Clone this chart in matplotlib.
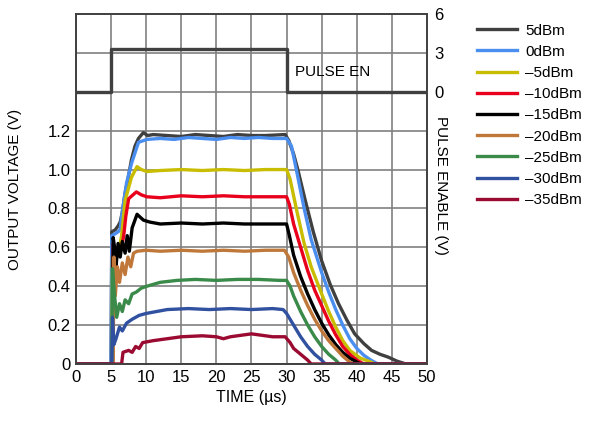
import matplotlib.pyplot as plt
import numpy as np

plt.rcParams['font.family'] = ['Liberation Sans Narrow', 'Liberation Sans', 'DejaVu Sans']
plt.rcParams['font.size'] = 12

labels = ["5dBm", "0dBm", "\u20135dBm", "\u201310dBm", "\u201315dBm",
          "\u201320dBm", "\u201325dBm", "\u201330dBm", "\u201335dBm"]
colors = ["#404040", "#4a8ef0", "#c8bd00", "#e8001c", "#000000",
          "#c0783a", "#3a8a4a", "#3050a0", "#9b0a30"]

t_5 = [0, 5.0, 5.1, 5.6, 6.0, 6.3, 6.6, 7.0, 7.4, 7.9, 8.4, 8.9, 9.6, 10.2, 11, 13, 15, 17, 19, 21, 23, 25, 27, 29.8,
       30.3, 31.0, 31.6, 32.6, 33.8, 35, 36.2, 37.4, 38.6, 39.7, 41, 42.1, 43.3, 44.5, 45.7, 47, 50]
v_5 = [0, 0, 0.68, 0.69, 0.71, 0.73, 0.78, 0.88, 0.95, 1.05, 1.12, 1.16, 1.19, 1.175, 1.18, 1.175, 1.17, 1.18, 1.175,
       1.17, 1.18, 1.175, 1.175, 1.18,
       1.15, 1.08, 1.00, 0.85, 0.68, 0.53, 0.41, 0.31, 0.225, 0.155, 0.105, 0.07, 0.05, 0.035, 0.015, 0, 0]

t_0 = [0, 5.0, 5.1, 5.6, 6.0, 6.3, 6.5, 7.2, 7.9, 8.9, 10.1, 12, 14, 16, 18, 20, 22, 24, 26, 28, 30.0,
       30.7, 31.5, 32.5, 33.5, 35, 36, 37, 38, 39, 40, 41, 42, 43, 50]
v_0 = [0, 0, 0.66, 0.67, 0.68, 0.69, 0.76, 0.93, 1.03, 1.14, 1.155, 1.16, 1.155, 1.165, 1.16, 1.155, 1.165, 1.16,
       1.165, 1.16, 1.16,
       1.12, 0.98, 0.80, 0.64, 0.47, 0.37, 0.28, 0.20, 0.13, 0.08, 0.045, 0.02, 0, 0]

t_m5 = [0, 5.1, 5.2, 5.6, 6.2, 6.5, 7.0, 7.9, 8.7, 9.3, 10.1, 12, 15, 18, 21, 24, 27, 30.0,
        30.5, 31.5, 32.5, 33.5, 35, 36, 37, 38, 39, 40.5, 42, 42.5, 50]
v_m5 = [0, 0, 0.55, 0.58, 0.60, 0.66, 0.84, 0.96, 1.015, 1.0, 0.99, 0.995, 1.0, 0.995, 1.0, 0.995, 1.0, 1.0,
        0.95, 0.78, 0.62, 0.50, 0.36, 0.27, 0.19, 0.12, 0.07, 0.03, 0.01, 0, 0]

t_m10 = [0, 5.2, 5.3, 5.8, 6.5, 6.8, 7.1, 7.5, 8.6, 9.3, 10.1, 12, 15, 18, 21, 24, 27, 30.0,
         30.4, 31, 32, 33, 34, 35, 36, 37, 38, 39, 40, 41, 50]
v_m10 = [0, 0, 0.62, 0.55, 0.60, 0.66, 0.76, 0.85, 0.885, 0.87, 0.86, 0.855, 0.865, 0.86, 0.865, 0.86, 0.86, 0.86,
         0.82, 0.72, 0.60, 0.48, 0.38, 0.30, 0.22, 0.15, 0.09, 0.05, 0.02, 0, 0]

t_m15 = [0, 5.2, 5.3, 5.5, 5.7, 6.0, 6.3, 6.6, 7.0, 7.3, 7.6, 8.0, 8.7, 9.6, 10.5, 12, 15, 18, 21, 24, 27, 30.0,
         30.4, 31, 32, 33, 34, 35, 36, 37, 38, 39, 40, 40.5, 50]
v_m15 = [0, 0, 0.65, 0.60, 0.50, 0.62, 0.55, 0.63, 0.57, 0.66, 0.58, 0.70, 0.77, 0.74, 0.73, 0.72, 0.725, 0.72,
         0.725, 0.72, 0.72, 0.72,
         0.66, 0.56, 0.45, 0.36, 0.28, 0.21, 0.15, 0.10, 0.06, 0.03, 0.01, 0, 0]

t_m20 = [0, 5.3, 5.4, 5.6, 5.9, 6.2, 6.6, 7.0, 7.4, 7.8, 8.2, 8.7, 10, 12, 15, 18, 21, 24, 27, 29.7,
         30.3, 31, 32, 33, 34, 35, 36, 37, 38, 39, 39.5, 50]
v_m20 = [0, 0, 0.55, 0.35, 0.50, 0.42, 0.52, 0.46, 0.55, 0.50, 0.57, 0.58, 0.585, 0.58, 0.585, 0.58, 0.585, 0.58,
         0.585, 0.585,
         0.55, 0.47, 0.38, 0.30, 0.23, 0.17, 0.12, 0.08, 0.04, 0.01, 0, 0]

t_m25 = [0, 5.1, 5.2, 5.5, 5.8, 6.2, 6.6, 7.0, 7.5, 8.0, 8.6, 9.3, 10.1, 12, 14.4, 17, 20, 23, 26, 29, 30.0,
         30.5, 31, 32, 33, 34, 35, 36, 37, 37.5, 50]
v_m25 = [0, 0, 0.49, 0.35, 0.24, 0.31, 0.27, 0.33, 0.31, 0.36, 0.37, 0.39, 0.40, 0.42, 0.43, 0.435, 0.43, 0.435,
         0.435, 0.43, 0.43,
         0.40, 0.35, 0.27, 0.20, 0.14, 0.09, 0.05, 0.02, 0, 0]

t_m30 = [0, 5.1, 5.2, 5.4, 5.7, 6.2, 6.6, 7.2, 8.0, 9.0, 10, 11.5, 13, 16, 19, 22, 25, 28, 29.5,
         30, 31, 32, 33, 34, 35, 35.5, 50]
v_m30 = [0, 0, 0.24, 0.10, 0.13, 0.19, 0.17, 0.21, 0.23, 0.25, 0.26, 0.27, 0.28, 0.285, 0.28, 0.285, 0.28, 0.285,
         0.28,
         0.26, 0.20, 0.14, 0.09, 0.05, 0.02, 0, 0]

t_m35 = [0, 6.5, 6.7, 7.5, 8.0, 8.5, 9.0, 9.5, 11, 13, 15, 18, 20, 21, 22, 24, 25, 26, 28, 29.8,
         30.5, 31, 32, 33, 33.5, 50]
v_m35 = [0, 0, 0.06, 0.07, 0.06, 0.09, 0.08, 0.11, 0.12, 0.13, 0.14, 0.145, 0.14, 0.13, 0.14, 0.15, 0.155, 0.15,
         0.14, 0.14,
         0.11, 0.08, 0.05, 0.02, 0, 0]

times = [t_5, t_0, t_m5, t_m10, t_m15, t_m20, t_m25, t_m30, t_m35]
volts = [v_5, v_0, v_m5, v_m10, v_m15, v_m20, v_m25, v_m30, v_m35]

t_pulse = [0, 5, 5, 30, 30, 50]
v_pulse = [0, 0, 3.3, 3.3, 0, 0]

fig = plt.figure(figsize=(6.02, 4.23), dpi=100)
ax = fig.add_axes([0.1262, 0.1395, 0.5831, 0.8274])
ax2 = ax.twinx()

for t, v, c, lab in zip(times, volts, colors, labels):
    ax.plot(t, v, color=c, lw=2.4, label=lab, solid_joinstyle='round')

ax2.plot(t_pulse, v_pulse, color="#404040", lw=2.4)
ax2.text(31.2, 1.5, "PULSE EN", va="center", ha="left", fontsize=11)

ax.set_xlim(0, 50)
ax.set_ylim(0, 1.8)
ax.set_xticks(np.arange(0, 51, 5))
yt = np.round(np.arange(0, 1.81, 0.2), 1)
ax.set_yticks(yt)
ax.set_yticklabels(["0" if y == 0 else ("%.1f" % y if y <= 1.2 else "") for y in yt])
ax.grid(True, color="#808080", lw=1.2)
ax.tick_params(length=0, labelsize=12, pad=4)
ax.set_xlabel("TIME (\u00b5s)", fontsize=11.5)
ax.set_ylabel("OUTPUT VOLTAGE (V)", fontsize=11)
ax.yaxis.set_label_coords(-0.154, 0.5)

ax2.set_ylim(-21, 6)
ax2.set_yticks([0, 3, 6])
ax2.tick_params(length=0, labelsize=12, pad=5)
ax2.set_ylabel("PULSE ENABLE (V)", rotation=270, fontsize=11)
ax2.yaxis.set_label_coords(1.06, 0.51)

for a in (ax, ax2):
    for s in a.spines.values():
        s.set_color("#404040")
        s.set_linewidth(1.2)

ax.legend(loc="upper left", bbox_to_anchor=(1.126, 0.99), frameon=False, handlelength=2.6,
          handletextpad=0.55, labelspacing=0.47, borderaxespad=0, fontsize=11)

fig.savefig("out.png", dpi=100)
